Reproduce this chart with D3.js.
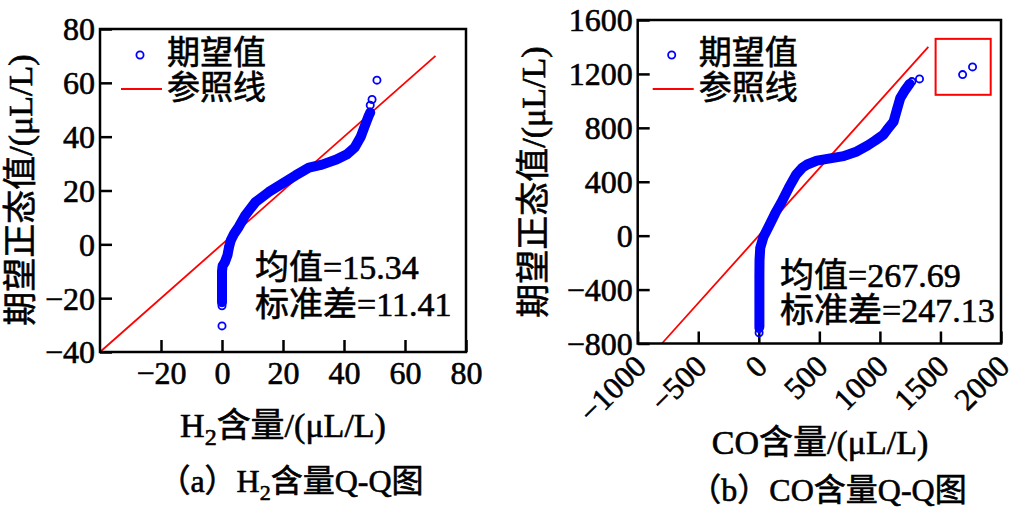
<!DOCTYPE html>
<html><head><meta charset="utf-8">
<script src="https://cdn.jsdelivr.net/npm/d3@7"></script>
<style>body{margin:0;background:#fff}svg{display:block}
text{stroke:#000;stroke-width:0.6px;paint-order:stroke}</style>
</head><body><svg id="c" width="1015" height="510"></svg>
<script>
// ---------- data ----------
// (a) H2: [sorted H2 content, expected normal value]
const h2Band = [[0,-21.5],[0,-18],[0,-14],[0,-10],[0.2,-8],[1,-6.5],[1.8,-4],[2.3,-1],[2.9,1.5],[4,4],[5.5,6.5],[7.6,10.7],[10.9,15.6],[15.3,19.4],[19.7,22.5],[24.1,25.6],[28.5,28.5],[32.8,29.6],[37.5,31.5],[41,33.5],[43.5,36],[45.5,40],[47,44.5],[48,47.5],[48.6,49]];
const h2Points = [[0,-30.3],[0,-22.8],[48.6,51.7],[49.2,53.8],[50.8,61]];
const h2Ref = [-40, 70];
const h2XTicks = [-20, 0, 20, 40, 60, 80];
const h2YTicks = [-40, -20, 0, 20, 40, 60, 80];
const h2Stats = ["均值=15.34", "标准差=11.41"];

// (b) CO
const coBand = [[5,-675],[5,-500],[5,-300],[6,-180],[12,-90],[38,-10],[80,65],[135,165],[185,245],[250,360],[310,455],[360,505],[400,528],[480,557],[590,573],[700,590],[810,625],[900,670],[960,705],[1030,750],[1058,784],[1113,846],[1140,933],[1168,1020],[1209,1081],[1245,1126]];
const coPoints = [[2.5,-720],[2.5,-690],[1264,1143],[1327,1163],[1683,1195],[1765,1252]];
const coRef = [-800, 1400];
const coBox = [[1460, 1460], [1915, 1045]];
const coXTicks = [-1000, -500, 0, 500, 1000, 1500, 2000];
const coYTicks = [-800, -400, 0, 400, 800, 1200, 1600];
const coStats = ["均值=267.69", "标准差=247.13"];

const legendLabels = ["期望值", "参照线"];

// ---------- drawing ----------
const FONT = '"Liberation Serif","Noto Sans CJK SC",serif';
const BLUE = '#0000ff', RED = '#ff0000';
const fmt = d3.format('d');
const svg = d3.select('#c').style('font-family', FONT);
svg.append('rect').attr('width', 1015).attr('height', 510).attr('fill', '#fff');

function panel(c) {
  const x = d3.scaleLinear().domain(c.xDomain).range(c.xRange);
  const y = d3.scaleLinear().domain(c.yDomain).range(c.yRange);
  const g = svg.append('g');

  // axes (inward ticks)
  const xa = g.append('g').attr('transform', `translate(0,${c.yRange[0]})`)
    .call(d3.axisBottom(x).tickValues(c.xTicks).tickFormat(fmt).tickSizeInner(-12).tickSizeOuter(0).tickPadding(9));
  const ya = g.append('g').attr('transform', `translate(${c.xRange[0]},0)`)
    .call(d3.axisLeft(y).tickValues(c.yTicks).tickFormat(fmt).tickSizeInner(-12).tickSizeOuter(0).tickPadding(5));
  [xa, ya].forEach(a => {
    a.select('.domain').remove();
    a.selectAll('line').attr('stroke', '#000').attr('stroke-width', 2.5);
    a.selectAll('text').attr('fill', '#000').style('font-size', '32px').style('font-family', FONT);
  });
  ya.selectAll('text').attr('dy', '0.34em');
  if (c.rotate) {
    xa.selectAll('text').attr('x', 0).attr('y', 0).attr('dy', '0.35em').style('font-size', '31px')
      .attr('transform', 'translate(2,17) rotate(-45)').style('text-anchor', 'end');
  }

  // reference line
  g.append('line')
    .attr('x1', x(c.ref[0])).attr('y1', y(c.ref[0]))
    .attr('x2', x(c.ref[1])).attr('y2', y(c.ref[1]))
    .attr('stroke', RED).attr('stroke-width', 1.8);

  // dense band of points
  g.append('path').datum(c.band)
    .attr('d', d3.line().x(d => x(d[0])).y(d => y(d[1])))
    .attr('fill', 'none').attr('stroke', BLUE).attr('stroke-width', 10)
    .attr('stroke-linejoin', 'round').attr('stroke-linecap', 'round');
  g.selectAll('circle.pt').data(c.band.concat(c.points)).join('circle').attr('class', 'pt')
    .attr('cx', d => x(d[0])).attr('cy', d => y(d[1])).attr('r', 3.6)
    .attr('fill', 'none').attr('stroke', BLUE).attr('stroke-width', 1.8);

  if (c.box) {
    g.append('rect')
      .attr('x', x(c.box[0][0])).attr('y', y(c.box[0][1]))
      .attr('width', x(c.box[1][0]) - x(c.box[0][0]))
      .attr('height', y(c.box[1][1]) - y(c.box[0][1]))
      .attr('fill', 'none').attr('stroke', RED).attr('stroke-width', 2);
  }

  // frame
  g.append('rect')
    .attr('x', c.xRange[0]).attr('y', c.yRange[1])
    .attr('width', c.xRange[1] - c.xRange[0]).attr('height', c.yRange[0] - c.yRange[1])
    .attr('fill', 'none').attr('stroke', '#000').attr('stroke-width', 2.5);

  // legend
  const L = c.legend;
  g.append('circle').attr('cx', L.x).attr('cy', 55).attr('r', 3.6)
    .attr('fill', 'none').attr('stroke', BLUE).attr('stroke-width', 1.8);
  g.append('line').attr('x1', L.x - 19).attr('x2', L.x + 22).attr('y1', 89).attr('y2', 89)
    .attr('stroke', RED).attr('stroke-width', 1.8);
  legendLabels.forEach((t, i) => {
    g.append('text').attr('x', L.x + 27).attr('y', [52, 87][i]).attr('dy', '0.35em')
      .style('font-size', '33px').text(t);
  });

  // stats
  c.stats.forEach((t, i) => {
    g.append('text').attr('x', c.statX).attr('y', c.statY[i]).attr('dy', '0.35em')
      .style('font-size', '34px').text(t);
  });

  // y title
  g.append('text').attr('transform', `translate(${c.yTitle[0]},${c.yTitle[1]}) rotate(-90)`)
    .attr('text-anchor', 'middle').attr('dy', '0.35em').style('font-size', '34px')
    .text('期望正态值/(μL/L)');

  // x title
  const xt = g.append('text').attr('x', c.xTitle[0]).attr('y', c.xTitle[1]).attr('dy', '0.35em')
    .attr('text-anchor', 'middle').style('font-size', '34px');
  c.xTitleParts.forEach(p => {
    const s = xt.append('tspan').text(p.t);
    if (p.sub) s.style('font-size', '24px').attr('dy', 8);
    if (p.back) s.attr('dy', -8);
  });

  // caption
  const ct = g.append('text').attr('x', c.cap[0]).attr('y', c.cap[1]).attr('dy', '0.35em')
    .attr('text-anchor', 'middle').style('font-size', '32px');
  c.capParts.forEach(p => {
    const s = ct.append('tspan').text(p.t);
    if (p.sub) s.style('font-size', '22px').attr('dy', 8);
    if (p.back) s.attr('dy', -8);
  });
}

panel({
  xDomain: [-40, 80], xRange: [100, 466], yDomain: [-40, 80], yRange: [352, 29],
  xTicks: h2XTicks, yTicks: h2YTicks, ref: h2Ref, band: h2Band, points: h2Points,
  legend: {x: 140}, stats: h2Stats, statX: 255, statY: [267, 304],
  yTitle: [20, 190], xTitle: [283, 425],
  xTitleParts: [{t: 'H'}, {t: '2', sub: true}, {t: '含量/(μL/L)', back: true}],
  cap: [291, 481],
  capParts: [{t: '（a）H'}, {t: '2', sub: true}, {t: '含量Q-Q图', back: true}]
});

panel({
  xDomain: [-1000, 2000], xRange: [637.7, 1001], yDomain: [-800, 1600], yRange: [343.5, 20],
  xTicks: coXTicks, yTicks: coYTicks, ref: coRef, band: coBand, points: coPoints, box: coBox,
  rotate: true,
  legend: {x: 671.7}, stats: coStats, statX: 780, statY: [275, 310],
  yTitle: [533, 182], xTitle: [820, 442],
  xTitleParts: [{t: 'CO含量/(μL/L)'}],
  cap: [828, 490],
  capParts: [{t: '（b）CO含量Q-Q图'}]
});
</script></body></html>
